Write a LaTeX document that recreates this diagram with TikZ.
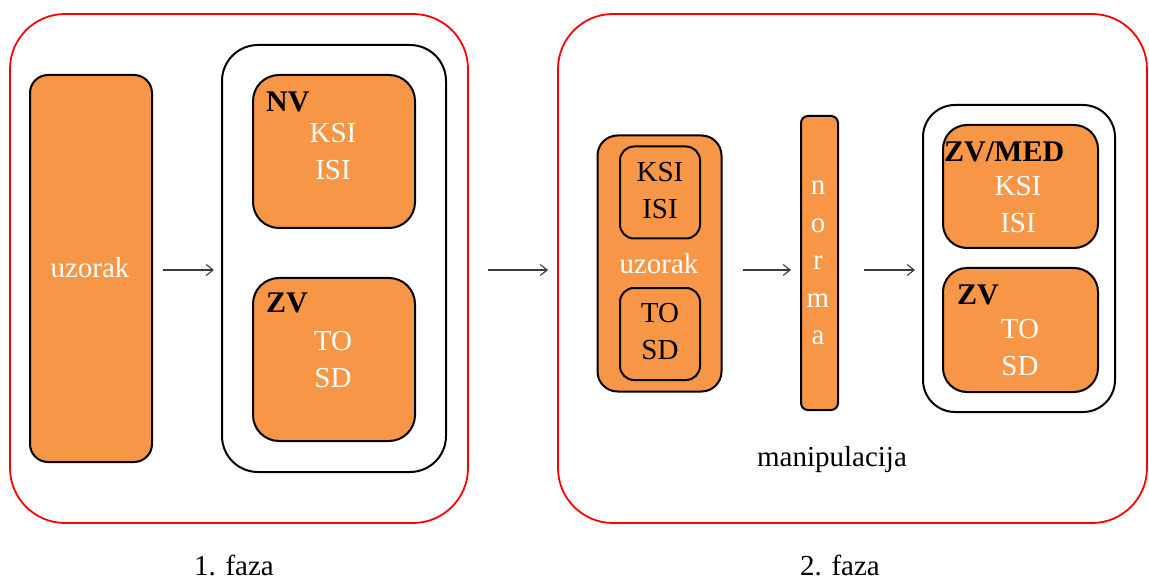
\documentclass[tikz,border=0pt]{standalone}
\usepackage{fontspec}
\setmainfont{Liberation Serif}
\usetikzlibrary{arrows.meta}
\definecolor{org}{HTML}{F79646}
\definecolor{arrgray}{HTML}{3A3A3A}
\tikzset{
  txt/.style={font=\fontsize{29}{37}\selectfont, inner sep=0pt, align=center},
  wtxt/.style={txt, text=white},
  btxt/.style={font=\bfseries\fontsize{30}{37}\selectfont, inner sep=0pt, anchor=west},
  obox/.style={draw=black, line width=2pt, fill=org, inner sep=0pt},
  wbox/.style={draw=black, line width=2pt, fill=white, inner sep=0pt},
  rbox/.style={draw=red, line width=1.8pt, inner sep=0pt, rounded corners=55pt},
  arr/.style={draw=arrgray, line width=1.1pt, -{Straight Barb[length=7pt,width=11pt]}}
}
\begin{document}
\begin{tikzpicture}[x=1pt,y=-1pt]
\useasboundingbox (0,0) rectangle (1149,580);
\coordinate (ay) at (0,270);
% phase 1
\node[rbox, minimum width=458pt, minimum height=509pt] (red1) at (239,268.5) {};
\node[obox, rounded corners=18pt, minimum width=122pt, minimum height=387pt] (uz1) at (91,268.5) {};
\node[wtxt] (uz1t) at (90,268) {uzorak};
\node[wbox, rounded corners=36pt, minimum width=224pt, minimum height=427pt] (cont1) at (334,258.5) {};
\node[obox, rounded corners=26pt, minimum width=162pt, minimum height=153pt] (nv) at (334,151.5) {};
\node[btxt] (nvt) at (266,102) {NV};
\node[wtxt] (nvk) at (333,151.5) {KSI\\ISI};
\node[obox, rounded corners=26pt, minimum width=162pt, minimum height=163pt] (zv1) at (334,359.5) {};
\node[btxt] (zv1t) at (266,303) {ZV};
\node[wtxt] (zv1k) at (333,360) {TO\\SD};
\node[txt, anchor=base] (f1) at (234,575) {1. faza};
\draw[arr, shorten <=10pt, shorten >=7pt] (uz1.east |- ay) -- (cont1.west |- ay);
% phase 2
\node[rbox, minimum width=589pt, minimum height=509pt] (red2) at (852.5,268.5) {};
\draw[arr, shorten <=19pt, shorten >=9pt] (red1.east |- ay) -- (red2.west |- ay);
\node[obox, rounded corners=20pt, minimum width=124pt, minimum height=256pt] (uz2) at (659.5,263.5) {};
\node[obox, rounded corners=14pt, minimum width=80pt, minimum height=92pt] (in1) at (660,192.5) {};
\node[txt] (in1t) at (660,190.5) {KSI\\ISI};
\node[wtxt] (uz2t) at (659,264) {uzorak};
\node[obox, rounded corners=14pt, minimum width=80pt, minimum height=92pt] (in2) at (660,334) {};
\node[txt] (in2t) at (660,331.5) {TO\\SD};
\node[obox, rounded corners=7pt, minimum width=37pt, minimum height=294pt] (norma) at (819.5,263) {};
\node[wtxt, font=\fontsize{29}{37.5}\selectfont] (normat) at (818,263) {n\\o\\r\\m\\a};
\draw[arr, shorten <=20pt, shorten >=9pt] (uz2.east |- ay) -- (norma.west |- ay);
\node[wbox, rounded corners=32pt, minimum width=192pt, minimum height=307pt] (cont2) at (1019,258.5) {};
\draw[arr, shorten <=25pt, shorten >=7pt] (norma.east |- ay) -- (cont2.west |- ay);
\node[obox, rounded corners=24pt, minimum width=155pt, minimum height=123pt] (zvm) at (1020.5,186.5) {};
\node[btxt] (zvmt) at (944,152) {ZV/MED};
\node[wtxt] (zvmk) at (1018,205) {KSI\\ISI};
\node[obox, rounded corners=24pt, minimum width=155pt, minimum height=124pt] (zv2) at (1020.5,330) {};
\node[btxt] (zv2t) at (957,295) {ZV};
\node[wtxt] (zv2k) at (1020,347.5) {TO\\SD};
\node[txt] (manip) at (832,460) {manipulacija};
\node[txt, anchor=base] (f2) at (840,575) {2. faza};
\end{tikzpicture}
\end{document}
